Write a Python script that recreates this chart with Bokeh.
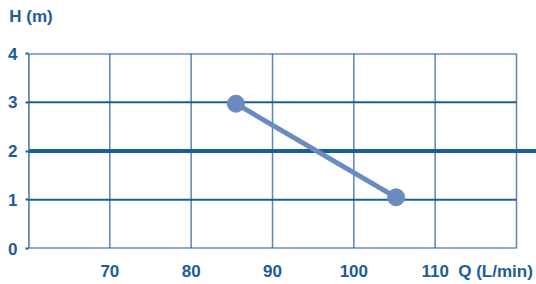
from bokeh.plotting import figure
from bokeh.models import FixedTicker, LinearAxis, Range1d
from bokeh.embed import file_html
from bokeh.resources import INLINE

q_values = [85.5, 105.2]
h_values = [2.97, 1.05]
x_ticks = [70, 80, 90, 100, 110]
x_grid = [60, 70, 80, 90, 100, 110, 120]
y_ticks = [0, 1, 2, 3, 4]
x_title = "Q (L/min)"
y_title = "H (m)"

DARK = "#1c5c97"
LIGHT = "#5a86b5"
SERIES = "#6a8bbf"
FONT = "Liberation Sans"
FS = "17px"

FW, FH = 508, 195          # frame size in px
XMIN, XMAX = 60, 120
px_per_unit = 488 / (XMAX - XMIN)
x_end = XMIN + FW / px_per_unit
q_label_pos = XMIN + 467 / px_per_unit
h_label_pos = XMIN + 2.5 / px_per_unit

p = figure(frame_width=FW, frame_height=FH, x_range=Range1d(XMIN, x_end), y_range=Range1d(0, 4),
           output_backend="svg", toolbar_location=None,
           min_border_left=28, min_border_right=0, min_border_top=53, min_border_bottom=36,
           x_axis_location=None, y_axis_location=None)
p.outline_line_color = None
p.background_fill_color = "white"
p.border_fill_color = "white"
p.xgrid.visible = False
p.ygrid.visible = False

# vertical grid
p.segment(x0=x_grid, y0=[0] * len(x_grid), x1=x_grid, y1=[4] * len(x_grid),
          line_color=LIGHT, line_width=1.5)
# horizontal grid
hy = [v for v in y_ticks if v != 2]
p.segment(x0=[XMIN] * len(hy), y0=hy, x1=[XMAX] * len(hy), y1=hy, line_color=DARK, line_width=2)
p.segment(x0=[XMIN], y0=[2], x1=[x_end], y1=[2], line_color=DARK, line_width=4)
# left border
p.segment(x0=[XMIN], y0=[0], x1=[XMIN], y1=[4], line_color=DARK, line_width=2)


def style(ax):
    ax.axis_line_color = None
    ax.minor_tick_line_color = None
    ax.major_label_text_font = FONT
    ax.major_label_text_font_style = "bold"
    ax.major_label_text_font_size = FS
    ax.major_label_text_color = DARK


# left axis
ya = LinearAxis(ticker=FixedTicker(ticks=y_ticks))
style(ya)
ya.major_tick_out = 3
ya.major_tick_in = 0
ya.major_tick_line_color = DARK
ya.major_tick_line_width = 2
ya.major_label_standoff = 8
p.add_layout(ya, "left")

# bottom axis
xa = LinearAxis(ticker=FixedTicker(ticks=x_ticks + [q_label_pos]))
style(xa)
xa.major_label_overrides = {q_label_pos: x_title}
xa.major_tick_line_color = None
xa.major_label_standoff = 7
p.add_layout(xa, "below")

# top axis carrying the H (m) title
ta = LinearAxis(ticker=FixedTicker(ticks=[h_label_pos]))
style(ta)
ta.major_label_overrides = {h_label_pos: y_title}
ta.major_tick_line_color = None
ta.major_label_standoff = 22
p.add_layout(ta, "above")

p.line(q_values, h_values, line_color=SERIES, line_width=5)
p.scatter(q_values, h_values, size=17, fill_color=SERIES, line_color=SERIES)

open("out.html", "w").write(file_html(p, INLINE))
